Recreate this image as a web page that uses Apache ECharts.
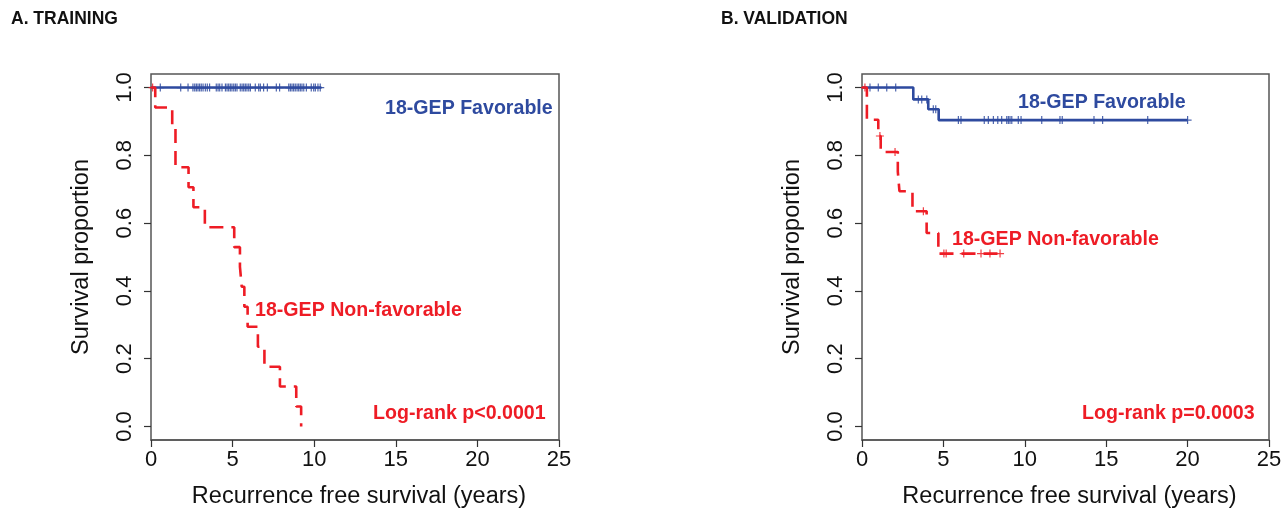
<!DOCTYPE html>
<html lang="en">
<head>
    <meta charset="UTF-8">
    <title>echarts</title>
    <script src="https://cdn.jsdelivr.net/npm/echarts@6/dist/echarts.min.js"></script>
    <style>
        html, body { margin: 0; padding: 0; background: #fff; }
        #main { width: 1284px; height: 508px; }
    </style>
</head>
<body>
<div id="main"></div>
<script type="text/javascript">
    // A. training - favorable: flat at 1.0, censor times only
    var trainFavT = [0, 10.44];
    var trainFavS = [1, 1];
    var trainFavCens = [0.57, 1.82, 2.27, 2.57, 2.68, 2.78, 2.88, 2.98, 3.08, 3.19, 3.33, 3.45, 3.59,
        4.00, 4.11, 4.21, 4.35, 4.56, 4.66, 4.76, 4.86, 4.96, 5.07, 5.17, 5.27, 5.47, 5.58, 5.68,
        5.78, 5.88, 5.99, 6.09, 6.39, 6.60, 6.70, 6.90, 7.13, 7.68, 7.88, 8.44, 8.54, 8.64, 8.74,
        8.84, 8.95, 9.05, 9.15, 9.25, 9.36, 9.52, 9.82, 9.97, 10.07, 10.23, 10.37];

    // A. training - non-favorable
    var trainNonT = [0, 0.26, 1.3, 1.5, 2.3, 2.6, 3.3, 5.1, 5.45, 5.56, 5.72, 5.92, 6.55, 6.95, 7.9, 8.9, 9.2];
    var trainNonS = [1, 0.941, 0.882, 0.765, 0.706, 0.647, 0.588, 0.529, 0.471, 0.412, 0.353, 0.294, 0.235, 0.176, 0.118, 0.059, 0];
    var trainNonCens = [0.1];

    // B. validation - favorable
    var valFavT = [0, 3.15, 4.07, 4.71, 20.0];
    var valFavS = [1, 0.965, 0.936, 0.904, 0.904];
    var valFavCens = [0.49, 1.0, 1.52, 2.07, 3.46, 3.67, 3.98, 4.38, 4.53, 5.92, 6.08, 7.51, 7.76,
        8.07, 8.34, 8.58, 8.89, 8.99, 9.09, 9.2, 9.6, 9.77, 11.04, 12.16, 12.3, 14.25, 14.78, 17.55, 20.0];

    // B. validation - non-favorable
    var valNonT = [0, 0.3, 1.0, 1.15, 2.2, 2.3, 3.1, 3.97, 4.69, 8.62];
    var valNonS = [1, 0.905, 0.857, 0.81, 0.752, 0.694, 0.635, 0.571, 0.51, 0.51];
    var valNonCens = [0.18, 1.1, 2.03, 3.77, 5.03, 5.17, 6.25, 7.31, 7.86, 8.48];

    var yTicks = [0, 0.2, 0.4, 0.6, 0.8, 1.0];

    var BLUE = '#2e4a9f';
    var RED = '#ee1c25';
    var FONT = 'Liberation Sans, Arial, sans-serif';
    var PLUS = 'path://M3.4,0h1.2v8h-1.2z M0,3.4h8v1.2h-8z';

    function pairs(T, S) {
        var out = [];
        for (var i = 0; i < T.length; i++) out.push([T[i], S[i]]);
        return out;
    }
    function survAt(T, S, t) {
        var s = S[0];
        for (var i = 0; i < T.length; i++) { if (T[i] <= t) s = S[i]; }
        return s;
    }
    function cens(T, S, C) {
        return C.map(function (t) { return [t, survAt(T, S, t)]; });
    }

    function xAxisCfg(idx) {
        return {
            gridIndex: idx, type: 'value', min: 0, max: 25, interval: 5,
            name: 'Recurrence free survival (years)', nameLocation: 'middle', nameGap: 45,
            nameTextStyle: {fontFamily: FONT, fontSize: 23.5, color: '#111', padding: [0, 0, 0, 8]},
            axisLine: {show: true, onZero: false, lineStyle: {color: '#555', width: 1.5}},
            axisTick: {show: true, inside: false, length: 7, lineStyle: {color: '#333', width: 1.2}},
            axisLabel: {fontFamily: FONT, fontSize: 22, color: '#111', margin: 9},
            splitLine: {show: false}
        };
    }
    function yAxisCfg(idx) {
        return {
            gridIndex: idx, type: 'value', min: -0.04, max: 1.04,
            name: 'Survival proportion', nameLocation: 'middle', nameGap: 57, nameRotate: 90,
            nameTextStyle: {fontFamily: FONT, fontSize: 23.5, color: '#111'},
            axisLine: {show: false},
            axisTick: {show: true, length: 7, customValues: yTicks, lineStyle: {color: '#333', width: 1.2}},
            axisLabel: {
                fontFamily: FONT, fontSize: 22, color: '#111', rotate: 90, margin: 15,
                customValues: yTicks,
                formatter: function (v) { return v.toFixed(1); }
            },
            splitLine: {show: false}
        };
    }
    function curve(idx, T, S, color, dashed) {
        return {
            type: 'line', xAxisIndex: idx, yAxisIndex: idx, step: 'end', symbol: 'none',
            data: pairs(T, S), silent: true, animation: false,
            lineStyle: {color: color, width: 2.6, type: dashed ? [14, 8] : 'solid'}
        };
    }
    function marks(idx, T, S, C, color) {
        return {
            type: 'scatter', xAxisIndex: idx, yAxisIndex: idx, symbol: PLUS, symbolSize: 8,
            data: cens(T, S, C), silent: true, animation: false,
            itemStyle: {color: color, opacity: 0.85}
        };
    }
    function txt(x, y, s, color, size) {
        return {
            type: 'text', x: x, y: y, silent: true,
            style: {text: s, fill: color, font: 'bold ' + size + 'px ' + FONT, verticalAlign: 'middle'}
        };
    }

    var myChart = echarts.init(document.getElementById('main'));
    var option = {
        animation: false,
        backgroundColor: '#fff',
        grid: [
            {left: 151, top: 74, width: 408, height: 366, outerBoundsMode: 'none', containLabel: false,
                show: true, borderColor: '#555', borderWidth: 1.5, backgroundColor: 'transparent'},
            {left: 862, top: 74, width: 407, height: 366, outerBoundsMode: 'none', containLabel: false,
                show: true, borderColor: '#555', borderWidth: 1.5, backgroundColor: 'transparent'}
        ],
        xAxis: [xAxisCfg(0), xAxisCfg(1)],
        yAxis: [yAxisCfg(0), yAxisCfg(1)],
        series: [
            curve(0, trainFavT, trainFavS, BLUE, false),
            marks(0, trainFavT, trainFavS, trainFavCens, BLUE),
            curve(0, trainNonT, trainNonS, RED, true),
            marks(0, trainNonT, trainNonS, trainNonCens, RED),
            curve(1, valFavT, valFavS, BLUE, false),
            marks(1, valFavT, valFavS, valFavCens, BLUE),
            curve(1, valNonT, valNonS, RED, true),
            marks(1, valNonT, valNonS, valNonCens, RED)
        ],
        graphic: [
            txt(11, 19, 'A. TRAINING', '#111', 17.5),
            txt(721, 19, 'B. VALIDATION', '#111', 17.5),
            txt(385, 109, '18-GEP Favorable', BLUE, 19.6),
            txt(255, 311, '18-GEP Non-favorable', RED, 19.6),
            txt(373, 414, 'Log-rank p<0.0001', RED, 19.6),
            txt(1018, 103, '18-GEP Favorable', BLUE, 19.6),
            txt(952, 240, '18-GEP Non-favorable', RED, 19.6),
            txt(1082, 414, 'Log-rank p=0.0003', RED, 19.6)
        ]
    };
    myChart.setOption(option);
</script>
</body>
</html>
